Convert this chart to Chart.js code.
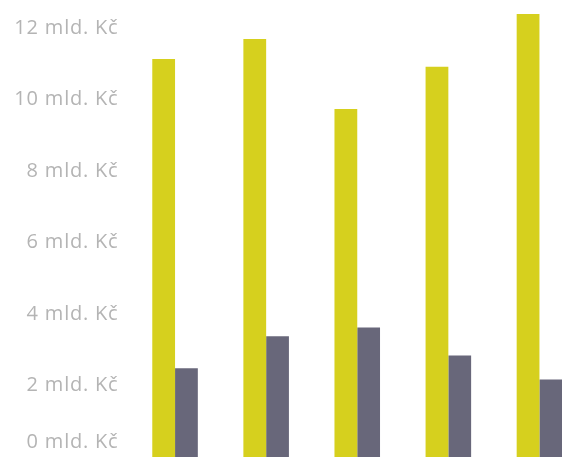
<!DOCTYPE html>
<html>
<head>
<meta charset="utf-8">
<script src="https://cdn.jsdelivr.net/npm/chart.js@4"></script>
<style>
  html, body { margin: 0; padding: 0; background: #fff; overflow: hidden; width: 562px; height: 459px; }
  .chart-container { position: absolute; left: 0; top: -16px; width: 585px; height: 514px; }
</style>
</head>
<body>
<div class="chart-container"><canvas id="chart" aria-label="Bar chart" role="img"></canvas></div>
<script>
const categories = ['1', '2', '3', '4', '5'];
const yellowValues = [11.13, 11.69, 9.73, 10.91, 12.39];
const greyValues = [2.48, 3.38, 3.62, 2.84, 2.17];
const tickUnit = ' mld. Kč';

// slightly spaced out axis text
const spacing = {
  id: 'spacing',
  beforeLayout(chart) { chart.ctx.letterSpacing = '0.8px'; },
  beforeDraw(chart) { chart.ctx.letterSpacing = '0.8px'; },
};

const canvasNode = document.getElementById('chart');
new Chart(canvasNode, {
  type: 'bar',
  data: {
    labels: categories,
    datasets: [
      { label: 'Řada 1', data: yellowValues, backgroundColor: '#d6d01e' },
      { label: 'Řada 2', data: greyValues, backgroundColor: '#68677a' },
    ],
  },
  plugins: [spacing],
  options: {
    responsive: true,
    maintainAspectRatio: false,
    animation: false,
    categoryPercentage: 0.5,
    barPercentage: 1,
    plugins: { legend: { display: false }, tooltip: { enabled: false } },
    scales: {
      x: { display: false },
      y: {
        min: 0,
        max: 12.5,
        afterFit: (scale) => { scale.width = 129.5; },
        grid: { display: false, drawTicks: false },
        border: { display: false },
        ticks: {
          stepSize: 2,
          includeBounds: false,
          padding: 11,
          color: '#b4b4b4',
          font: { family: 'Open Sans', size: 20, lineHeight: 1.5 },
          // the 0 label sits a bit higher than its tick
          callback: v => (v === 0 ? ['0' + tickUnit, ''] : v + tickUnit),
        },
      },
    },
  },
});
</script>
</body>
</html>
